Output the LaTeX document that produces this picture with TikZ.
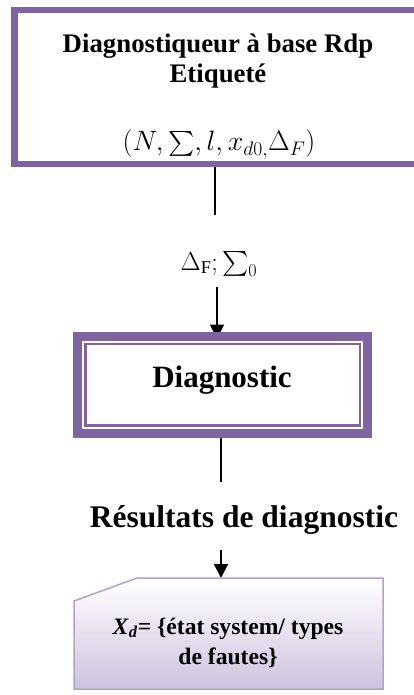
\RequirePackage{fix-cm}
\documentclass[tikz,border=0pt]{standalone}
\usepackage{exscale}
\usepackage{fontspec}
\setmainfont{Liberation Serif}
\usetikzlibrary{arrows.meta,backgrounds,calc}
\definecolor{vio}{HTML}{8064A2}
\definecolor{vioedge}{HTML}{B3A2C7}
\definecolor{viofill}{HTML}{CEC2DF}
\begin{document}
\begin{tikzpicture}[x=1pt,y=-1pt,
  conn/.style={line width=2pt, black},
  arr/.style={conn, -{Triangle[width=14pt,length=14pt]}},
  txt/.style={inner sep=0pt, anchor=base},
  frame/.style={draw=vio, inner sep=0pt, outer sep=0pt}]
\useasboundingbox (0,0) rectangle (414,695);
\clip (0,0) rectangle (414,695);

% top frame
\node[frame, line width=6.5pt, minimum width=410.5pt, minimum height=154pt] (top) at (219.75,87) {};
\node[txt, font=\fontsize{26.8}{30}\selectfont\bfseries] (t1) at (218,53) {Diagnostiqueur à base Rdp};
\node[txt, font=\fontsize{26.8}{30}\selectfont\bfseries] (t2) at (218,83) {Etiqueté};
\node[txt, font=\fontsize{28}{30}\selectfont] (t3) at (219,151) {$(N,\sum,l,x_{d0,}\Delta_F)$};

% diagnostic box
\node[frame, fill=white, line width=9pt, minimum width=290pt, minimum height=97pt] (diag) at (222.5,385) {};
\draw[vio, line width=2.5pt] ($(diag.north west)+(8,7.5)$) rectangle ($(diag.south east)+(-7.5,-8)$);
\node[txt, font=\fontsize{31}{36}\selectfont\bfseries] (dt) at (222,387) {Diagnostic};

% labels
\node[txt, font=\fontsize{26}{30}\selectfont] (l1) at (219,270) {$\Delta_{\mathrm{F}};\sum_0$};
\node[txt, font=\fontsize{31.5}{36}\selectfont\bfseries] (l2) at (244,527) {Résultats de diagnostic};

% result box
\node[minimum width=309pt, minimum height=111pt, inner sep=0pt, outer sep=0pt] (res) at (228.5,633.5) {};
\begin{scope}[shift={(3,3)}]
\fill[black!45] ($(res.north west)+(63,0)$) -- (res.north east) -- (res.south east) -- (res.south west) -- ($(res.north west)+(0,23)$) -- cycle;
\end{scope}
\shade[top color=white, bottom color=viofill, draw=vioedge, line width=1.5pt]
  ($(res.north west)+(63,0)$) -- (res.north east) -- (res.south east) -- (res.south west) -- ($(res.north west)+(0,23)$) -- cycle;
\node[txt, font=\fontsize{23.6}{30}\selectfont\bfseries] (r1) at (228,634) {\textit{X}\textsubscript{\textit{d}}= \{état system/ types};
\node[txt, font=\fontsize{23.6}{30}\selectfont\bfseries] (r2) at (228,664) {de fautes\}};

% connectors
\coordinate (c1) at (215,215);
\coordinate (c2) at (217,287);
\coordinate (c3) at (221,482);
\coordinate (c4) at (221,550);
\begin{scope}[on background layer]
\draw[conn] (top.south -| c1) -- (c1);
\draw[arr] (c2) -- ($(diag.north -| c2)+(0,2)$);
\draw[conn] (diag.south -| c3) -- (c3);
\draw[arr] (c4) -- (res.north -| c4);
\end{scope}
\end{tikzpicture}
\end{document}
